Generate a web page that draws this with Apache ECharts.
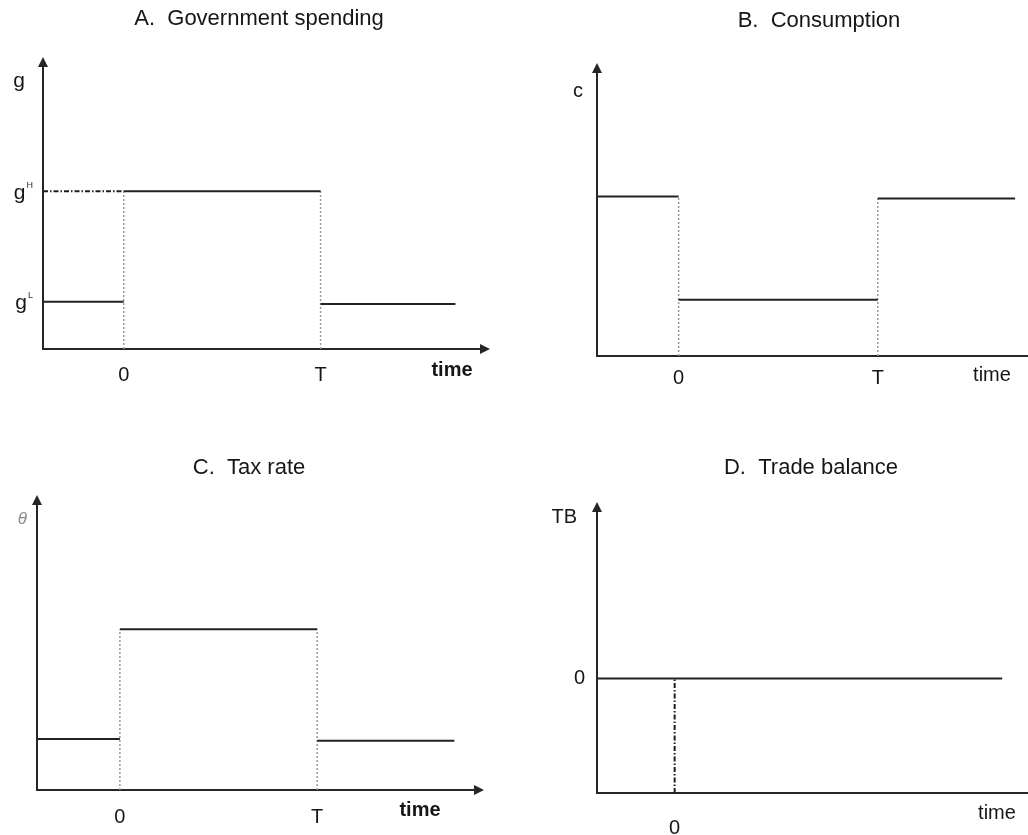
<!DOCTYPE html>
<html>
<head>
<meta charset="utf-8">
<title>Temporary rise in government spending</title>
<script src="https://cdn.jsdelivr.net/npm/echarts@6/dist/echarts.min.js"></script>
<style>
  html, body { margin: 0; padding: 0; background: #ffffff; }
  #chart { width: 1028px; height: 835px; }
</style>
</head>
<body>
<div id="chart"></div>
<script>
// ---- values --------------------------------------------------------------
// The time axis is schematic: 0 marks the start of the policy, T its end.
const T = 10;
const timeTickValues = [0, T];
const timeTickLabels = ['0', 'T'];

// Horizontal pieces, each as [from, to, level]
const govSegments  = [[-4.1, 0, 1.65], [0, T, 5.5], [T, 16.85, 1.57]];
const govGuide     = [[-4.1, 0, 5.5]];              // dash-dot guide out to g^H
const consSegments = [[-4.1, 0, 5.54], [0, T, 1.95], [T, 16.9, 5.47]];
const taxSegments  = [[-4.2, 0, 1.76], [0, T, 5.54], [T, 16.95, 1.7]];
const tbSegments   = [[-3.9, 16.45, 0]];

// Dotted drop lines, each as [time, level reached]
const govDrops  = [[0, 5.5], [T, 5.5]];
const consDrops = [[0, 5.54], [T, 5.47]];
const taxDrops  = [[0, 5.54], [T, 5.54]];
const tbDrops   = [[0, 0]];

// Labelled levels on the g axis
const govTickValues = [1.65, 5.5];
const govTickSups   = ['L', 'H'];
const tbTickValues  = [0];
const tbTickLabels  = ['0'];

// Axis extents per panel (time, level)
const timeRanges  = [[-4.1, 18.35], [-4.1, 18.4], [-4.2, 18.2], [-3.9, 18.6]];
const levelRanges = [[0, 10], [0, 10], [0, 10], [-4, 6]];

const titles = ['A.  Government spending', 'B.  Consumption', 'C.  Tax rate', 'D.  Trade balance'];
const levelNames = ['g', 'c', '\u03B8', 'TB'];

// ---- styles --------------------------------------------------------------
const FONT = '"Liberation Sans", Arial, Helvetica, sans-serif';
const INK = '#161616';
const solid = { color: '#222222', width: 2, type: 'solid' };
const dotted = { color: '#9a9a9a', width: 1.5, type: [2, 2] };
const dashDot = { color: '#1e1e1e', width: 2, type: [5, 2, 1.5, 2] };

const grids = [
  { left: 43,  top: 62,  width: 442, height: 287 },
  { left: 597, top: 68,  width: 448, height: 288 },
  { left: 37,  top: 500, width: 442, height: 290 },
  { left: 597, top: 507, width: 448, height: 286 }
];

const titleLayout = [
  { left: 259, top: 8 },
  { left: 819, top: 10 },
  { left: 249, top: 457 },
  { left: 811, top: 457 }
];

// per-panel placement of the 'time' caption and x tick labels
const timeNameGap   = [-33, -53, -59, -48];
const timeNamePad   = [11, 9, 10, 10];
const timeNameBold  = ['bold', 'normal', 'bold', 'normal'];
const timeLabelGap  = [16, 12, 17, 25];
const timeArrow     = [true, false, true, false];

// per-panel placement of the level-axis name
const levelNameGap = [-19, -23, -19, -10.5];
const levelNamePad = [18, 14, 10, 20];

function hSeries(gi, segs, style) {
  return segs.map(function (s) {
    return {
      type: 'line', xAxisIndex: gi, yAxisIndex: gi,
      data: [[s[0], s[2]], [s[1], s[2]]],
      symbol: 'none', showSymbol: false, silent: true,
      lineStyle: style, clip: false, z: 3
    };
  });
}

function dropSeries(gi, drops, style) {
  const base = levelRanges[gi][0];
  return drops.map(function (d) {
    return {
      type: 'line', xAxisIndex: gi, yAxisIndex: gi,
      data: [[d[0], base], [d[0], d[1]]],
      symbol: 'none', showSymbol: false, silent: true,
      lineStyle: style, clip: false, z: 2
    };
  });
}

const xAxes = grids.map(function (g, i) {
  const isD = i === 3;
  const vals = isD ? [0] : timeTickValues;
  return {
    type: 'value', gridIndex: i,
    min: timeRanges[i][0], max: timeRanges[i][1],
    splitLine: { show: false }, axisTick: { show: false },
    axisLine: {
      show: true, onZero: false,
      symbol: timeArrow[i] ? ['none', 'triangle'] : ['none', 'none'],
      symbolSize: [10, 10],
      lineStyle: { color: '#262626', width: 2 }
    },
    axisLabel: {
      customValues: vals,
      margin: timeLabelGap[i],
      color: INK, fontFamily: FONT, fontSize: 20,
      formatter: function (v) {
        const k = timeTickValues.indexOf(v);
        return k >= 0 ? timeTickLabels[k] : '';
      }
    },
    name: 'time', nameLocation: 'end', nameGap: timeNameGap[i],
    nameMoveOverlap: false,
    nameTextStyle: {
      color: INK, fontFamily: FONT, fontSize: 20, fontWeight: timeNameBold[i],
      align: 'center', verticalAlign: 'top', padding: [timeNamePad[i], 0, 0, 0]
    }
  };
});

const yAxes = grids.map(function (g, i) {
  const axis = {
    type: 'value', gridIndex: i,
    min: levelRanges[i][0], max: levelRanges[i][1],
    splitLine: { show: false }, axisTick: { show: false },
    axisLine: {
      show: true, onZero: false,
      symbol: ['none', 'triangle'], symbolSize: [10, 10],
      lineStyle: { color: '#262626', width: 2 }
    },
    axisLabel: { show: false },
    name: levelNames[i], nameLocation: 'end', nameGap: levelNameGap[i],
    nameMoveOverlap: false,
    nameTextStyle: {
      color: INK, fontFamily: FONT, fontSize: i === 0 ? 21 : 20,
      align: 'right', verticalAlign: 'middle',
      padding: [0, levelNamePad[i], 0, 0]
    }
  };
  if (i === 2) {
    axis.nameTextStyle.fontStyle = 'italic';
    axis.nameTextStyle.fontSize = 17;
    axis.nameTextStyle.color = '#8a8a8a';
  }
  if (i === 0) {
    axis.axisLabel = {
      show: true, customValues: govTickValues, margin: 10,
      formatter: function (v) {
        const k = govTickValues.indexOf(v);
        return '{g|g}{s|' + (k >= 0 ? govTickSups[k] : '') + '}';
      },
      rich: {
        g: { color: INK, fontFamily: FONT, fontSize: 21, padding: [4, 0, 0, 0] },
        s: { color: '#333333', fontFamily: FONT, fontSize: 9, verticalAlign: 'top', padding: [2, 0, 0, 1] }
      }
    };
  }
  if (i === 3) {
    axis.axisLabel = {
      show: true, customValues: tbTickValues, margin: 12,
      color: INK, fontFamily: FONT, fontSize: 20,
      formatter: function (v) {
        const k = tbTickValues.indexOf(v);
        return k >= 0 ? tbTickLabels[k] : '';
      }
    };
  }
  return axis;
});

const series = [].concat(
  dropSeries(0, govDrops, dotted),
  hSeries(0, govGuide, dashDot),
  hSeries(0, govSegments, solid),
  dropSeries(1, consDrops, dotted),
  hSeries(1, consSegments, solid),
  dropSeries(2, taxDrops, dotted),
  hSeries(2, taxSegments, solid),
  dropSeries(3, tbDrops, dashDot),
  hSeries(3, tbSegments, solid)
);

const chart = echarts.init(document.getElementById('chart'), null, { renderer: 'canvas' });
chart.setOption({
  backgroundColor: '#ffffff',
  animation: false,
  title: titles.map(function (t, i) {
    return {
      text: t, left: titleLayout[i].left, top: titleLayout[i].top,
      textAlign: 'center', padding: 0,
      textStyle: { color: INK, fontFamily: FONT, fontSize: 22, fontWeight: 'normal' }
    };
  }),
  grid: grids.map(function (g) {
    return Object.assign({ containLabel: false, outerBoundsMode: 'none' }, g);
  }),
  xAxis: xAxes,
  yAxis: yAxes,
  series: series
});
</script>
</body>
</html>
